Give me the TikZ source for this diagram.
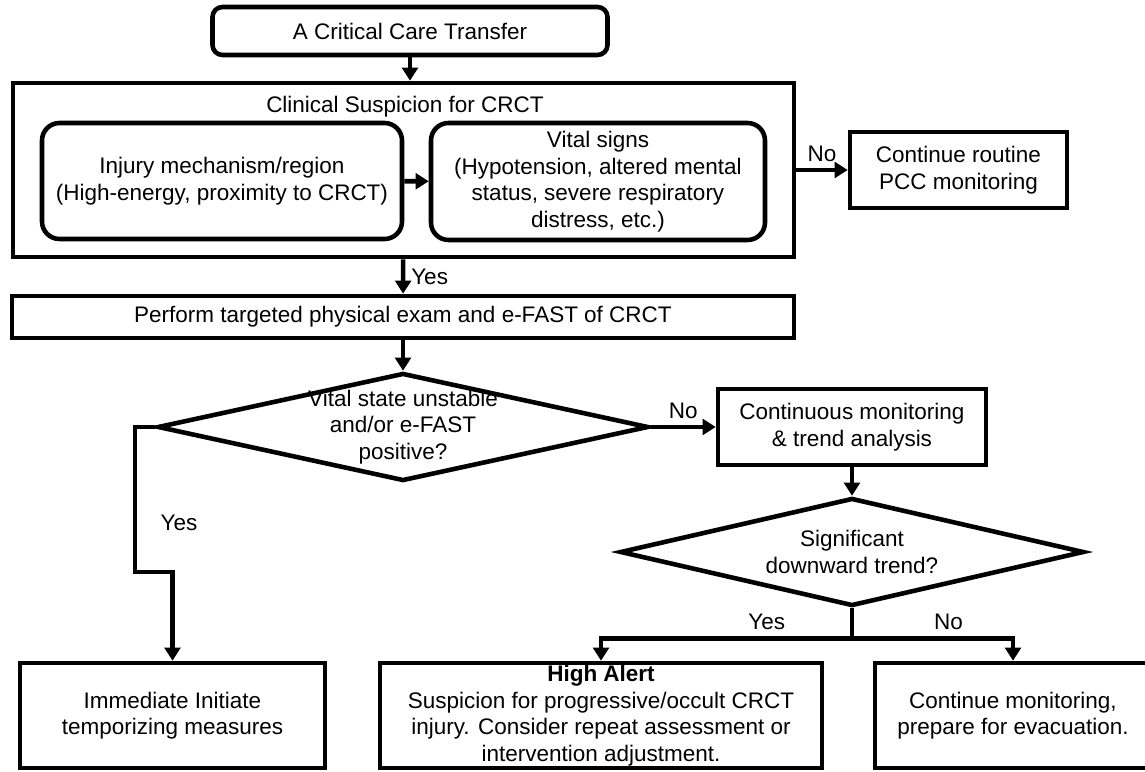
\documentclass[tikz,border=0pt]{standalone}
\usepackage{fontspec}
\setmainfont{Liberation Sans}
\usetikzlibrary{shapes.geometric,arrows.meta}

\begin{document}
\begin{tikzpicture}[
        box/.style={draw, line width=2.6pt, align=center, inner sep=0pt},
        roundbox/.style={box, rounded corners=0.35cm},
        decision/.style={draw, diamond, line width=2.6pt, inner sep=0pt},
        flow/.style={line width=2.6pt, -{Triangle[length=7.5pt,width=9pt]}},
        font=\fontsize{12.8}{15.1}\selectfont
    ]
        \useasboundingbox (0,0) rectangle (22.9,-15.42);

        % Start
        \node[roundbox, rounded corners=0.2cm, minimum width=7.9cm, minimum height=0.96cm] (start) at (8.2,-0.62) {A Critical Care Transfer};

        % Clinical suspicion block
        \node[box, minimum width=15.62cm, minimum height=3.48cm] (suspicion) at (8.07,-3.4) {};
        \node (suspicion title) at (8.1,-2.14) {Clinical Suspicion for CRCT};
        \node[roundbox, minimum width=7.2cm, minimum height=2.32cm] (injury) at (4.44,-3.62) {Injury mechanism/region\\(High-energy, proximity to CRCT)};
        \node[roundbox, minimum width=6.68cm, minimum height=2.34cm] (vitals) at (11.96,-3.63) {Vital signs\\(Hypotension, altered mental\\status, severe respiratory\\distress, etc.)};
        \node[box, minimum width=4.34cm, minimum height=1.52cm] (routine) at (19.17,-3.4) {Continue routine\\PCC monitoring};

        % Exam and first decision
        \node[box, minimum width=15.64cm, minimum height=0.84cm] (exam) at (8.06,-6.34) {Perform targeted physical exam and e-FAST of CRCT};
        \node[decision, minimum width=9.82cm, minimum height=2.16cm, label={[align=center]center:Vital state unstable\\and/or e-FAST\\positive?}] (check) at (8.06,-8.54) {};
        \node[box, minimum width=5.36cm, minimum height=1.52cm] (monitor) at (17.04,-8.54) {Continuous monitoring\\\& trend analysis};

        % Second decision
        \node[decision, minimum width=9.28cm, minimum height=2.16cm, label={[align=center]center:Significant\\downward trend?}] (trend) at (17.04,-11.04) {};

        % Outcomes
        \node[box, minimum width=6.1cm, minimum height=2.1cm] (immediate) at (3.45,-14.31) {Immediate Initiate\\temporizing measures};
        \node[box, minimum width=8.84cm, minimum height=2.1cm] (alert) at (12.02,-14.31) {\textbf{High Alert}\\Suspicion for progressive/occult CRCT\\injury. Consider repeat assessment or\\intervention adjustment.};
        \node[box, minimum width=5.52cm, minimum height=2.1cm] (evac) at (20.26,-14.31) {Continue monitoring,\\prepare for evacuation.};

        % Connectors
        \draw[flow] (start) -- (start |- suspicion.north);
        \draw[flow] (injury) -- (vitals);
        \draw[flow] (suspicion) -- node[above] {No} (routine);
        \draw[flow] (suspicion) -- node[right] {Yes} (exam);
        \draw[flow] (exam) -- (check);
        \draw[flow] (check.west) -| node[pos=0.83, right=0.35cm] {Yes} (2.7,-11.44) -| (immediate);
        \draw[flow] (check) -- node[above] {No} (monitor);
        \draw[flow] (monitor) -- (trend);
        \draw[line width=2.6pt] (trend.south) -- ++(0,-0.6) coordinate (split);
        \draw[flow] (split) -| node[pos=0.17, above] {Yes} (alert);
        \draw[flow] (split) -| node[pos=0.3, above] {No} (evac);
    \end{tikzpicture}
\end{document}
